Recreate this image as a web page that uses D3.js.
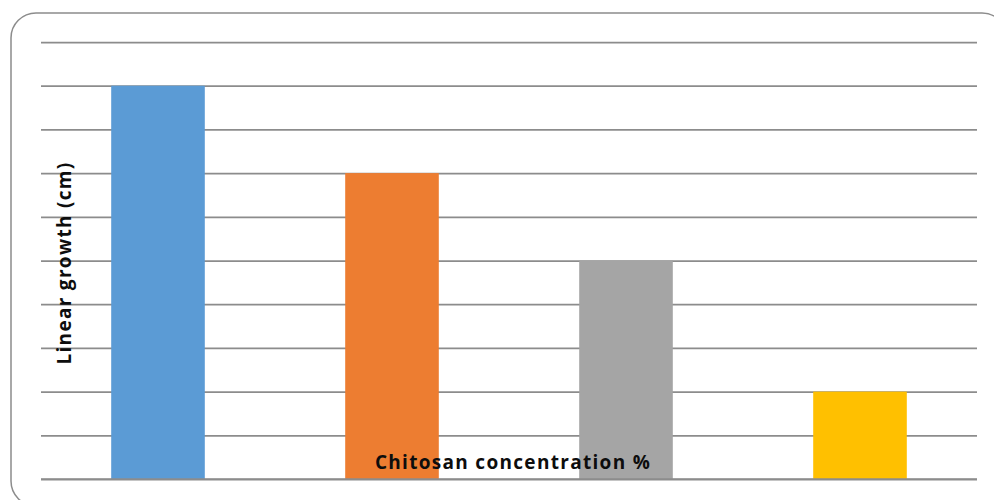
<!DOCTYPE html>
<html>
<head>
<meta charset="utf-8">
<title>Linear growth</title>
<script src="https://d3js.org/d3.v7.min.js"></script>
<style>
  body { margin: 0; background: #fff; }
  svg { display: block; }
</style>
</head>
<body>
<div id="chart"></div>
<script>
// data
var categories = ["0.5", "1", "1.5", "2"];
var growth = [9, 7, 5, 2];
var barColors = ["#5B9BD5", "#ED7D31", "#A5A5A5", "#FFC000"];
var yTicks = [0, 1, 2, 3, 4, 5, 6, 7, 8, 9, 10];

var W = 994, H = 500;
var margin = {top: 42, right: 17, bottom: 21, left: 41};
var width = W - margin.left - margin.right,
    height = H - margin.top - margin.bottom;

var svg = d3.select("#chart").append("svg")
    .attr("width", W)
    .attr("height", H);

// chart area frame (runs off the right / bottom)
svg.append("rect")
    .attr("x", 11).attr("y", 13)
    .attr("width", 996).attr("height", 493)
    .attr("rx", 25).attr("ry", 25)
    .attr("fill", "none")
    .attr("stroke", "#8c8c8c")
    .attr("stroke-width", 1.5);

var g = svg.append("g")
    .attr("transform", "translate(" + margin.left + "," + margin.top + ")");

var x = d3.scaleBand()
    .domain(categories)
    .range([0, width])
    .paddingInner(0.6)
    .paddingOuter(0.3);

var y = d3.scaleLinear()
    .domain([0, 10])
    .range([height, 0]);

// gridlines
g.append("g")
    .call(d3.axisLeft(y).tickValues(yTicks).tickSize(-width).tickFormat(""))
    .call(function(a) {
      a.select(".domain").remove();
      a.selectAll("line").attr("stroke", "#8c8c8c").attr("stroke-width", 1.75);
    });

// bars
g.selectAll(".bar")
    .data(growth)
    .enter()
    .append("rect")
      .attr("x", function(d, i) { return x(categories[i]); })
      .attr("y", function(d) { return y(d); })
      .attr("width", x.bandwidth())
      .attr("height", function(d) { return height - y(d); })
      .attr("fill", function(d, i) { return barColors[i]; });

// bottom gridline drawn over bars
g.append("line")
    .attr("x1", 0).attr("x2", width)
    .attr("y1", y(0)).attr("y2", y(0))
    .attr("stroke", "#8c8c8c").attr("stroke-width", 1.75);

// axis titles
svg.append("text")
    .attr("x", 513).attr("y", 469)
    .attr("text-anchor", "middle")
    .style("font-family", "'Open Sans', sans-serif")
    .style("font-weight", "bold")
    .style("font-size", "19px")
    .style("letter-spacing", "1.3px")
    .attr("fill", "#0d0d0d")
    .text("Chitosan concentration %");

svg.append("text")
    .attr("transform", "translate(71,263) rotate(-90)")
    .attr("text-anchor", "middle")
    .style("font-family", "'Open Sans', sans-serif")
    .style("font-weight", "bold")
    .style("font-size", "19px")
    .style("letter-spacing", "1.3px")
    .attr("fill", "#0d0d0d")
    .text("Linear growth (cm)");
</script>
</body>
</html>
